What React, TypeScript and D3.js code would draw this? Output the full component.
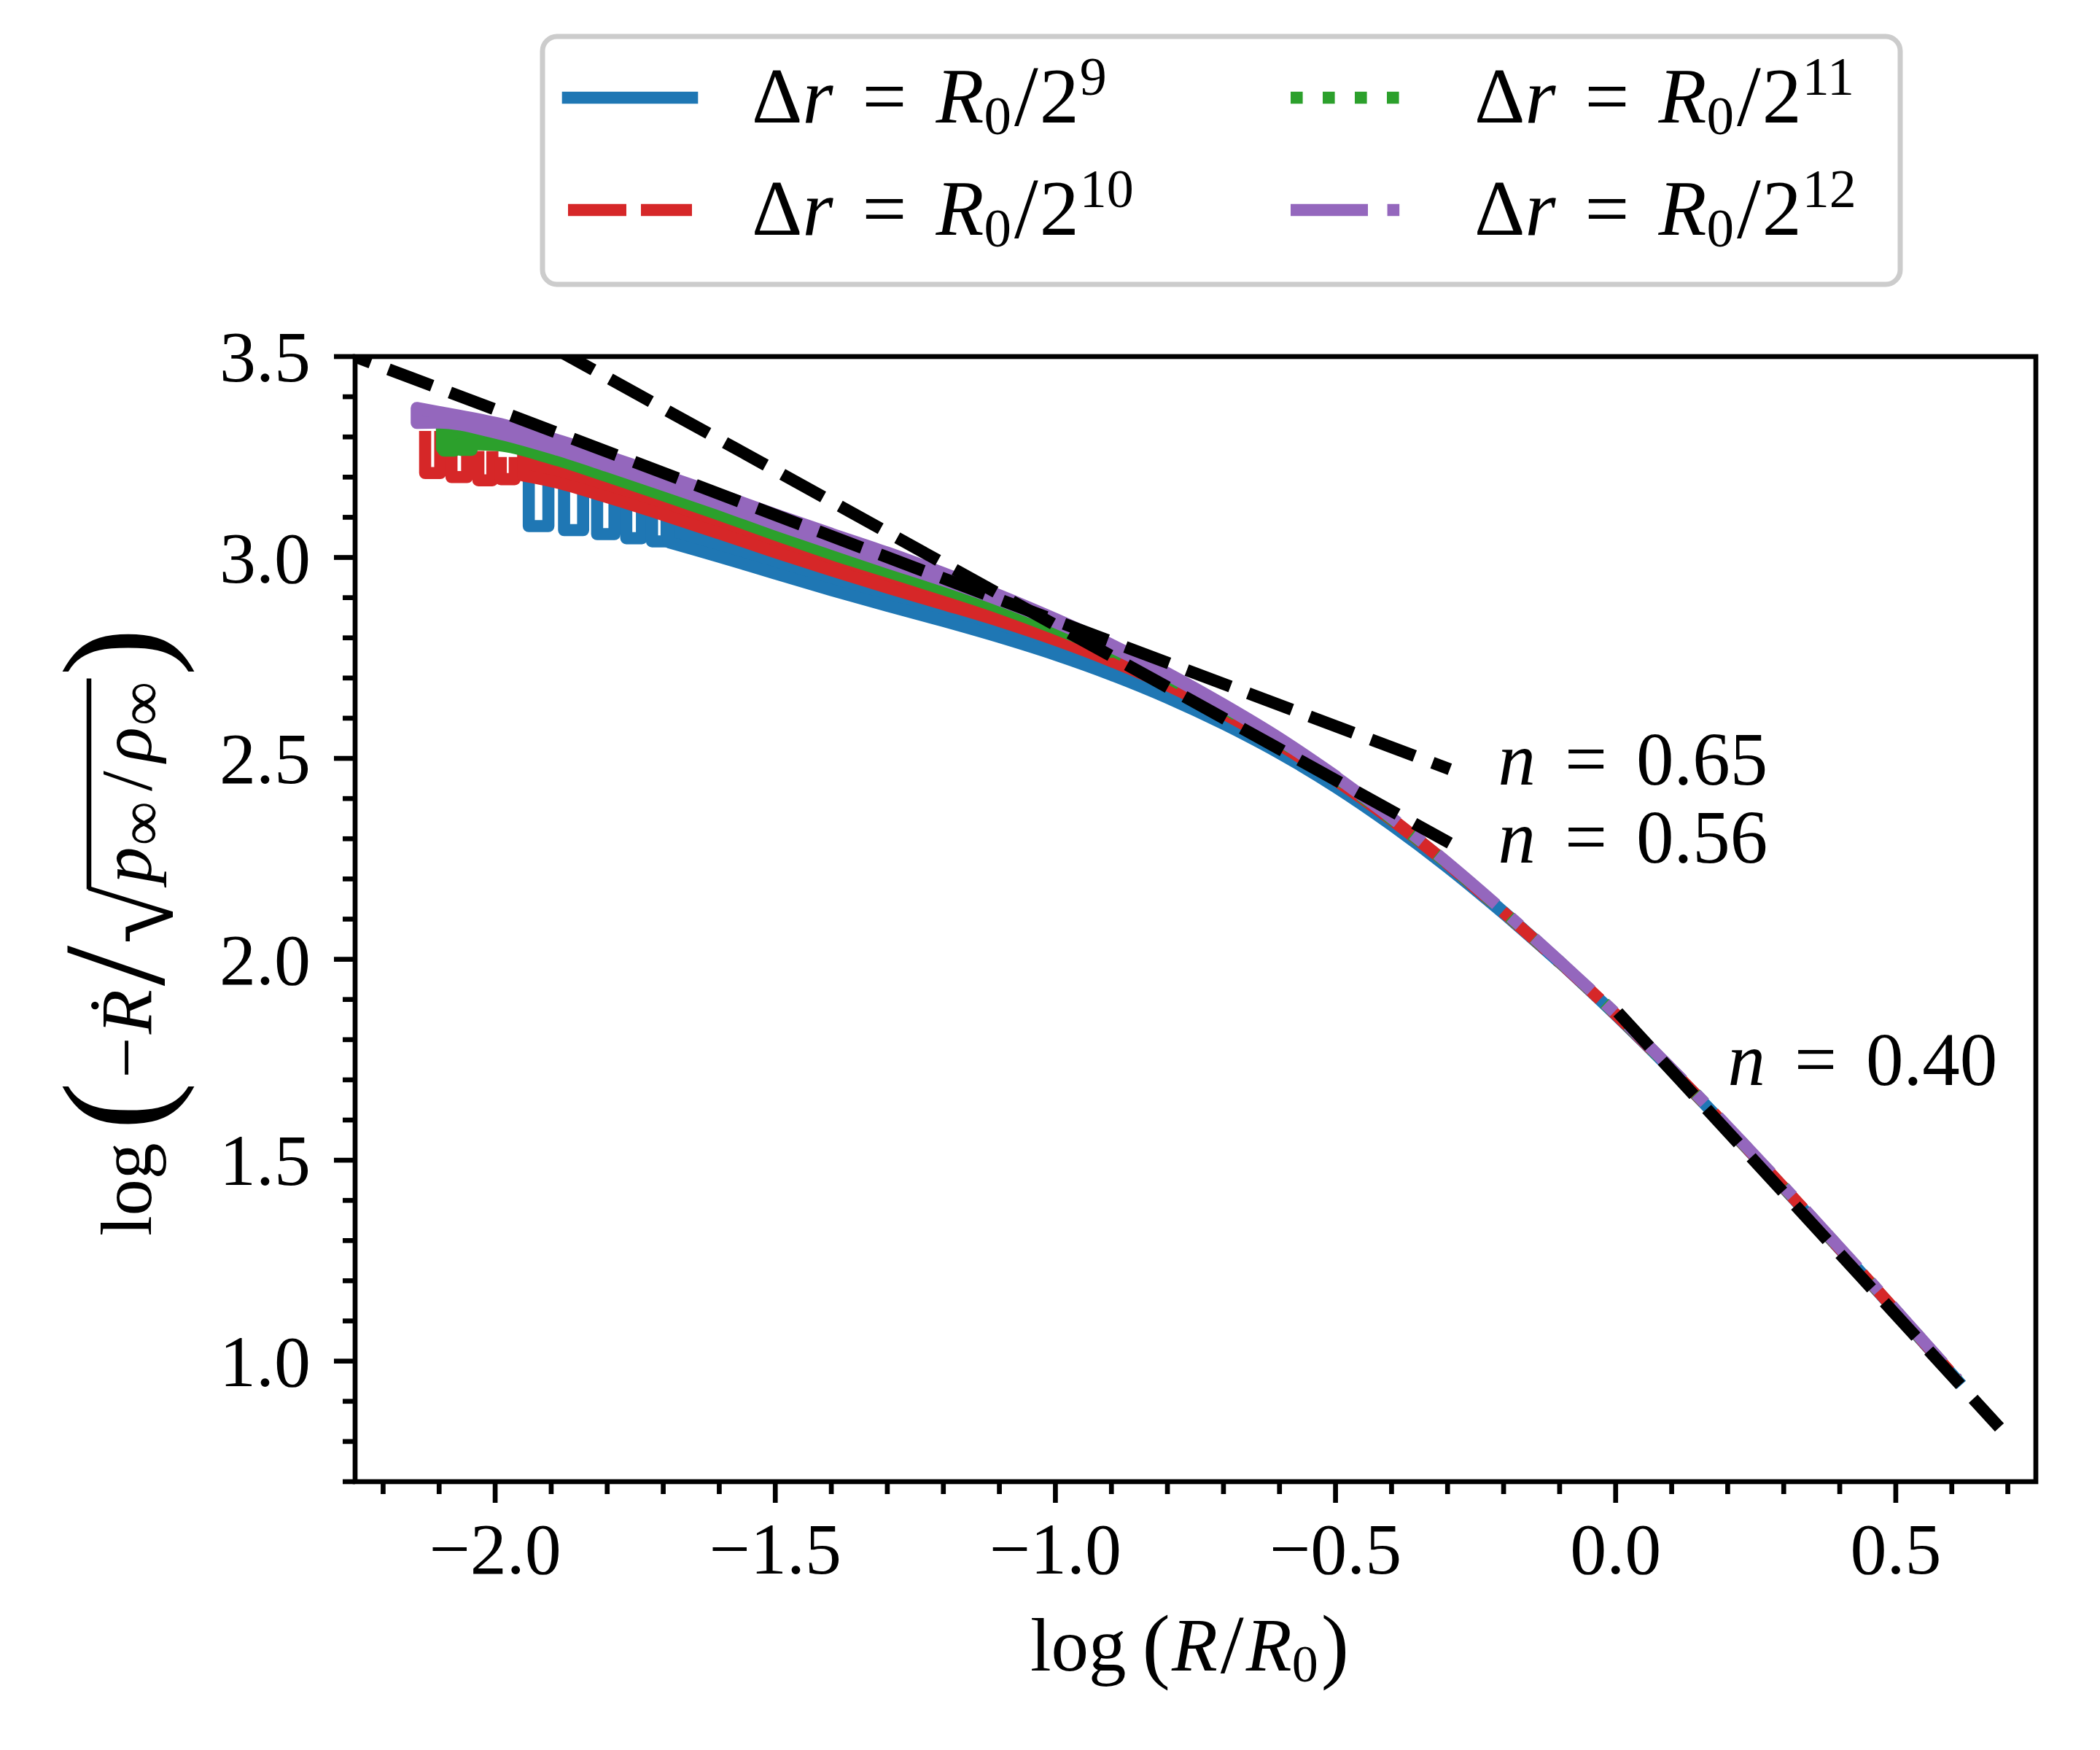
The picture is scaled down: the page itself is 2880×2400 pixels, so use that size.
import React, { useEffect, useRef } from 'react';
import * as d3 from 'd3';

// ---- data ----
const xDomain = [-2.25, 0.75];
const yDomain = [0.7, 3.5];

const xMajorTicks = [-2.0, -1.5, -1.0, -0.5, 0.0, 0.5];
const xTickLabels = ['−2.0', '−1.5', '−1.0', '−0.5', '0.0', '0.5'];
const xMinorTicks = [-2.2, -2.1, -1.9, -1.8, -1.7, -1.6, -1.4, -1.3, -1.2, -1.1, -0.9, -0.8, -0.7, -0.6,
  -0.4, -0.3, -0.2, -0.1, 0.1, 0.2, 0.3, 0.4, 0.6, 0.7];
const yMajorTicks = [1.0, 1.5, 2.0, 2.5, 3.0, 3.5];
const yTickLabels = ['1.0', '1.5', '2.0', '2.5', '3.0', '3.5'];
const yMinorTicks = [0.7, 0.8, 0.9, 1.1, 1.2, 1.3, 1.4, 1.6, 1.7, 1.8, 1.9, 2.1, 2.2, 2.3, 2.4,
  2.6, 2.7, 2.8, 2.9, 3.1, 3.2, 3.3, 3.4];

// grid-step dips at small R: [x0, x1, top, bottom]
const blueDips = [
  [-1.940, -1.905, 3.200, 3.078],
  [-1.877, -1.843, 3.180, 3.068],
  [-1.818, -1.787, 3.150, 3.058],
  [-1.766, -1.738, 3.130, 3.048],
  [-1.720, -1.694, 3.110, 3.040],
];
const redDips = [
  [-2.125, -2.098, 3.315, 3.210],
  [-2.078, -2.050, 3.285, 3.200],
  [-2.030, -2.005, 3.265, 3.192],
  [-1.990, -1.965, 3.250, 3.195],
];
const greenDips = [
  [-2.092, -2.072, 3.305, 3.266],
  [-2.062, -2.042, 3.298, 3.268],
];
const purpleDips: number[][] = [];

// noisy envelope: [x, upper, lower]
const blueBand = [
  [-1.69, 3.110, 3.038], [-1.60, 3.070, 3.002], [-1.50, 3.023, 2.960], [-1.40, 2.978, 2.919],
  [-1.30, 2.935, 2.880], [-1.20, 2.894, 2.842], [-1.10, 2.852, 2.802], [-1.00, 2.805, 2.758],
  [-0.90, 2.752, 2.708], [-0.80, 2.690, 2.651], [-0.70, 2.620, 2.586], [-0.60, 2.538, 2.513],
  [-0.50, 2.449, 2.429], [-0.40, 2.348, 2.334], [-0.30, 2.238, 2.229], [-0.20, 2.118, 2.114],
  [-0.10, 1.994, 1.992],
];
const redBand = [
  [-1.95, 3.270, 3.204], [-1.90, 3.255, 3.190], [-1.80, 3.210, 3.150], [-1.70, 3.163, 3.106],
  [-1.60, 3.115, 3.060], [-1.50, 3.065, 3.013], [-1.40, 3.017, 2.968], [-1.30, 2.972, 2.925],
  [-1.20, 2.925, 2.884], [-1.10, 2.876, 2.842], [-1.00, 2.823, 2.795], [-0.90, 2.765, 2.742],
  [-0.80, 2.700, 2.682], [-0.70, 2.625, 2.612], [-0.60, 2.543, 2.534], [-0.50, 2.452, 2.446],
  [-0.40, 2.350, 2.347], [-0.30, 2.239, 2.238],
];
const greenBand = [
  [-2.095, 3.330, 3.272], [-2.05, 3.322, 3.282], [-2.00, 3.313, 3.280], [-1.90, 3.275, 3.247],
  [-1.80, 3.230, 3.202], [-1.70, 3.183, 3.155], [-1.60, 3.135, 3.107], [-1.50, 3.085, 3.057],
  [-1.40, 3.037, 3.009], [-1.30, 2.990, 2.965], [-1.20, 2.942, 2.921], [-1.10, 2.892, 2.875],
  [-1.00, 2.836, 2.823], [-0.90, 2.775, 2.765],
];
const purpleBand = [
  [-2.14, 3.372, 3.335], [-2.10, 3.362, 3.336], [-2.00, 3.335, 3.311], [-1.90, 3.297, 3.273],
  [-1.80, 3.252, 3.228], [-1.70, 3.205, 3.181], [-1.60, 3.157, 3.133], [-1.50, 3.107, 3.083],
  [-1.40, 3.059, 3.035], [-1.30, 3.012, 2.988], [-1.20, 2.961, 2.943], [-1.10, 2.906, 2.894],
  [-1.00, 2.847, 2.839], [-0.90, 2.783, 2.777], [-0.80, 2.712, 2.708], [-0.70, 2.634, 2.630],
  [-0.60, 2.550, 2.546], [-0.50, 2.456, 2.454],
];

// smooth part: [x, y]
const blueTail = [[-0.1, 1.993], [0.0, 1.862], [0.1, 1.724], [0.2, 1.580], [0.3, 1.431],
  [0.4, 1.279], [0.5, 1.124], [0.61, 0.952]];
const redTail = [[-0.3, 2.238], [-0.2, 2.117], [-0.1, 1.993], [0.0, 1.863], [0.1, 1.725],
  [0.2, 1.581], [0.3, 1.432], [0.4, 1.280], [0.5, 1.125], [0.61, 0.953]];
const greenTail = [[-0.9, 2.770], [-0.8, 2.701], [-0.7, 2.626], [-0.6, 2.544], [-0.5, 2.452],
  [-0.4, 2.349], [-0.3, 2.238], [-0.2, 2.118], [-0.1, 1.994], [0.0, 1.864], [0.1, 1.726],
  [0.2, 1.582], [0.3, 1.433], [0.4, 1.281], [0.5, 1.126], [0.61, 0.954]];
const purpleTail = [[-0.5, 2.455], [-0.4, 2.352], [-0.3, 2.240], [-0.2, 2.120], [-0.1, 1.995],
  [0.0, 1.865], [0.1, 1.727], [0.2, 1.583], [0.3, 1.434], [0.4, 1.282], [0.5, 1.127], [0.61, 0.955]];

// power-law reference lines
const fitN065 = [[-2.30, 3.526], [-0.296, 2.473]];
const fitN056 = [[-2.00, 3.602], [-0.296, 2.289]];
const fitN040 = [[0.004, 1.868], [0.685, 0.835]];
const fitLabels = ['0.65', '0.56', '0.40'];
const fitLabelX = [-0.21, -0.21, 0.20];
const fitLabelY = [2.435, 2.24, 1.687];

const legendExponents = ['9', '10', '11', '12'];

// ---- styling ----
const FONT = '"Liberation Serif", "DejaVu Serif", serif';
const FS = 100;
const LW = 16.6;
const colors = ['#1f77b4', '#d62728', '#2ca02c', '#9467bd'];
const dashes = [null, '80 20', '16.6 27.4', '106 26.6 16.6 26.6'];

type Piece = { t: string; it?: boolean; s?: number; dy?: number; l?: number; r?: number };

function mathText(parent: any, pieces: Piece[], size: number) {
  let cx = 0;
  const spans: { x0: number; x1: number }[] = [];
  pieces.forEach(p => {
    cx += (p.l ?? 0) * size;
    const t = parent.append('text')
      .attr('x', cx)
      .attr('y', (p.dy ?? 0) * size)
      .attr('font-family', FONT)
      .attr('font-size', size * (p.s ?? 1))
      .attr('font-style', p.it ? 'italic' : 'normal')
      .attr('fill', '#000')
      .text(p.t);
    const w = (t.node() as SVGTextElement).getComputedTextLength();
    spans.push({ x0: cx, x1: cx + w });
    cx += w + (p.r ?? 0) * size;
  });
  return { width: cx, spans };
}

// ink box of a glyph, per px of font size
function inkBox(ch: string) {
  const ctx = document.createElement('canvas').getContext('2d');
  if (!ctx) return { asc: 0.8, desc: 0.1, right: 0.55 };
  ctx.font = `100px ${FONT}`;
  const m = ctx.measureText(ch);
  return {
    asc: (m.actualBoundingBoxAscent || 80) / 100,
    desc: (m.actualBoundingBoxDescent || 10) / 100,
    right: (m.actualBoundingBoxRight || 55) / 100,
  };
}

export default function App() {
  const svgRef = useRef<SVGSVGElement>(null);

  useEffect(() => {
    if (!svgRef.current) return;
    document.body.style.margin = '0';
    const svg = d3.select(svgRef.current);
    svg.selectAll('*').remove();

    const left = 487, right = 2792, top = 489, bottom = 2032;
    const x = d3.scaleLinear().domain(xDomain).range([left, right]);
    const y = d3.scaleLinear().domain(yDomain).range([bottom, top]);

    svg.append('rect').attr('width', 2880).attr('height', 2400).attr('fill', '#fff');

    svg.append('defs').append('clipPath').attr('id', 'plotClip')
      .append('rect').attr('x', left).attr('y', top)
      .attr('width', right - left).attr('height', bottom - top);

    const plot = svg.append('g').attr('clip-path', 'url(#plotClip)');

    const area = d3.area<number[]>()
      .x(d => x(d[0])).y0(d => y(d[2])).y1(d => y(d[1]))
      .curve(d3.curveMonotoneX);
    const smooth = d3.line<number[]>()
      .x(d => x(d[0])).y(d => y(d[1]))
      .curve(d3.curveMonotoneX);
    const straight = d3.line<number[]>()
      .x(d => x(d[0])).y(d => y(d[1]));

    const series = [
      { dips: blueDips, band: blueBand, tail: blueTail },
      { dips: redDips, band: redBand, tail: redTail },
      { dips: greenDips, band: greenBand, tail: greenTail },
      { dips: purpleDips, band: purpleBand, tail: purpleTail },
    ];

    series.forEach((s, i) => {
      const c = colors[i];
      const g = plot.append('g');
      s.dips.forEach(d => {
        g.append('path')
          .attr('d', `M${x(d[0])},${y(d[2])}L${x(d[0])},${y(d[3])}L${x(d[1])},${y(d[3])}L${x(d[1])},${y(d[2])}`)
          .attr('fill', 'none').attr('stroke', c).attr('stroke-width', LW)
          .attr('stroke-linejoin', 'round').attr('stroke-linecap', 'butt');
      });
      g.append('path').attr('d', area(s.band as number[][]))
        .attr('fill', c).attr('stroke', c).attr('stroke-width', LW)
        .attr('stroke-linejoin', 'round');
      const tl = g.append('path').attr('d', smooth(s.tail as number[][]))
        .attr('fill', 'none').attr('stroke', c).attr('stroke-width', LW)
        .attr('stroke-linejoin', 'round')
        .attr('stroke-linecap', dashes[i] ? 'butt' : 'square');
      if (dashes[i]) tl.attr('stroke-dasharray', dashes[i]);
    });

    [fitN065, fitN056, fitN040].forEach(f => {
      plot.append('path').attr('d', straight(f as number[][]))
        .attr('fill', 'none').attr('stroke', '#000').attr('stroke-width', LW)
        .attr('stroke-dasharray', '64 26').attr('stroke-linecap', 'butt');
    });

    // fit labels
    fitLabels.forEach((lab, i) => {
      const g = svg.append('g').attr('transform', `translate(${x(fitLabelX[i])},${y(fitLabelY[i])})`);
      mathText(g, [{ t: 'n', it: true, s: 1.03, r: 0.4 }, { t: '=', s: 1.03, r: 0.4 }, { t: lab, s: 1.03 }], FS);
    });

    // spines
    svg.append('rect').attr('x', left).attr('y', top)
      .attr('width', right - left).attr('height', bottom - top)
      .attr('fill', 'none').attr('stroke', '#000').attr('stroke-width', 6.7);

    // ticks
    const tickW = 6.7;
    xMajorTicks.forEach((v, i) => {
      svg.append('line').attr('x1', x(v)).attr('x2', x(v)).attr('y1', bottom).attr('y2', bottom + 29)
        .attr('stroke', '#000').attr('stroke-width', tickW);
      svg.append('text').attr('x', x(v)).attr('y', 2158).attr('text-anchor', 'middle')
        .attr('font-family', FONT).attr('font-size', FS).text(xTickLabels[i]);
    });
    xMinorTicks.forEach(v => {
      svg.append('line').attr('x1', x(v)).attr('x2', x(v)).attr('y1', bottom).attr('y2', bottom + 17)
        .attr('stroke', '#000').attr('stroke-width', tickW);
    });
    yMajorTicks.forEach((v, i) => {
      svg.append('line').attr('x1', left - 29).attr('x2', left).attr('y1', y(v)).attr('y2', y(v))
        .attr('stroke', '#000').attr('stroke-width', tickW);
      svg.append('text').attr('x', 426).attr('y', y(v) + 34).attr('text-anchor', 'end')
        .attr('font-family', FONT).attr('font-size', FS).text(yTickLabels[i]);
    });
    yMinorTicks.forEach(v => {
      svg.append('line').attr('x1', left - 17).attr('x2', left).attr('y1', y(v)).attr('y2', y(v))
        .attr('stroke', '#000').attr('stroke-width', tickW);
    });

    // x label
    const xl = svg.append('g');
    const xm = mathText(xl, [
      { t: 'log', s: 1.03, r: 0.22 }, { t: '(', s: 1.15, dy: 0.03, r: 0.02 }, { t: 'R', it: true, s: 1.03, r: 0.04 },
      { t: '/', s: 1.15, dy: 0.03, r: 0.03 }, { t: 'R', it: true, s: 1.03 },
      { t: '0', s: 0.72, dy: 0.15, r: 0.04 }, { t: ')', s: 1.15, dy: 0.03 },
    ], FS);
    xl.attr('transform', `translate(${(left + right) / 2 - 8 - xm.width / 2},2291)`);

    // y label: radical sized so its ink runs from 0.88 em above to 0.30 em below the baseline
    const rad = inkBox('√');
    const radTop = 0.88, radBot = 0.30;
    const radS = (radTop + radBot) / Math.max(0.3, rad.asc + rad.desc);
    const radDy = rad.asc * radS - radTop;
    const yOuter = svg.append('g').attr('transform', `translate(207,1278) rotate(-90)`);
    const yl = yOuter.append('g');
    const ym = mathText(yl, [
      { t: 'log', r: 0.17 },
      { t: '(', s: 2.0, dy: 0.17, r: 0.05 },
      { t: '−', r: 0.04 },
      { t: 'Ṙ', it: true, r: 0.05 },
      { t: '/', s: 2.0, dy: 0.17, r: 0.02 },
      { t: '√', s: radS, dy: radDy },
      { t: 'p', it: true, l: 0.03, r: 0.02 },
      { t: '∞', s: 0.85, dy: 0.15, r: 0.14 },
      { t: '/', r: 0.12 },
      { t: 'ρ', it: true, r: 0.02 },
      { t: '∞', s: 0.85, dy: 0.15, r: 0.07 },
      { t: ')', s: 2.0, dy: 0.17 },
    ], FS);
    const vinX0 = ym.spans[5].x0 + rad.right * radS * FS - 5;
    yl.append('line')
      .attr('x1', vinX0).attr('x2', ym.spans[10].x1 + 4)
      .attr('y1', -radTop * FS + 3).attr('y2', -radTop * FS + 3)
      .attr('stroke', '#000').attr('stroke-width', 6.5);
    yl.attr('transform', `translate(${-ym.width / 2},0)`);

    // legend
    const lg = svg.append('g');
    lg.append('rect').attr('x', 744).attr('y', 50).attr('width', 1862).attr('height', 340)
      .attr('rx', 20).attr('fill', '#fff').attr('stroke', '#cccccc').attr('stroke-width', 7);
    const colX = [779, 1770], textX = [1031, 2022], rowY = [134, 288], rowBase = [168, 322];
    legendExponents.forEach((e, i) => {
      const col = Math.floor(i / 2), row = i % 2;
      const ln = lg.append('line')
        .attr('x1', colX[col]).attr('x2', colX[col] + 170)
        .attr('y1', rowY[row]).attr('y2', rowY[row])
        .attr('stroke', colors[i]).attr('stroke-width', LW)
        .attr('stroke-linecap', dashes[i] ? 'butt' : 'square');
      if (dashes[i]) ln.attr('stroke-dasharray', dashes[i]);
      const tg = lg.append('g').attr('transform', `translate(${textX[col]},${rowBase[row]})`);
      mathText(tg, [
        { t: 'Δ', s: 1.08 }, { t: 'r', it: true, s: 1.08, r: 0.4 }, { t: '=', s: 1.08, r: 0.4 },
        { t: 'R', it: true, s: 1.08 }, { t: '0', s: 0.75, dy: 0.16, r: 0.04 },
        { t: '/', s: 1.18, dy: 0.04, r: 0.02 }, { t: '2', s: 1.08, r: 0.01 }, { t: e, s: 0.74, dy: -0.38 },
      ], FS);
    });
  }, []);

  return <svg ref={svgRef} width={2880} height={2400} style={{ display: 'block' }} />;
}
